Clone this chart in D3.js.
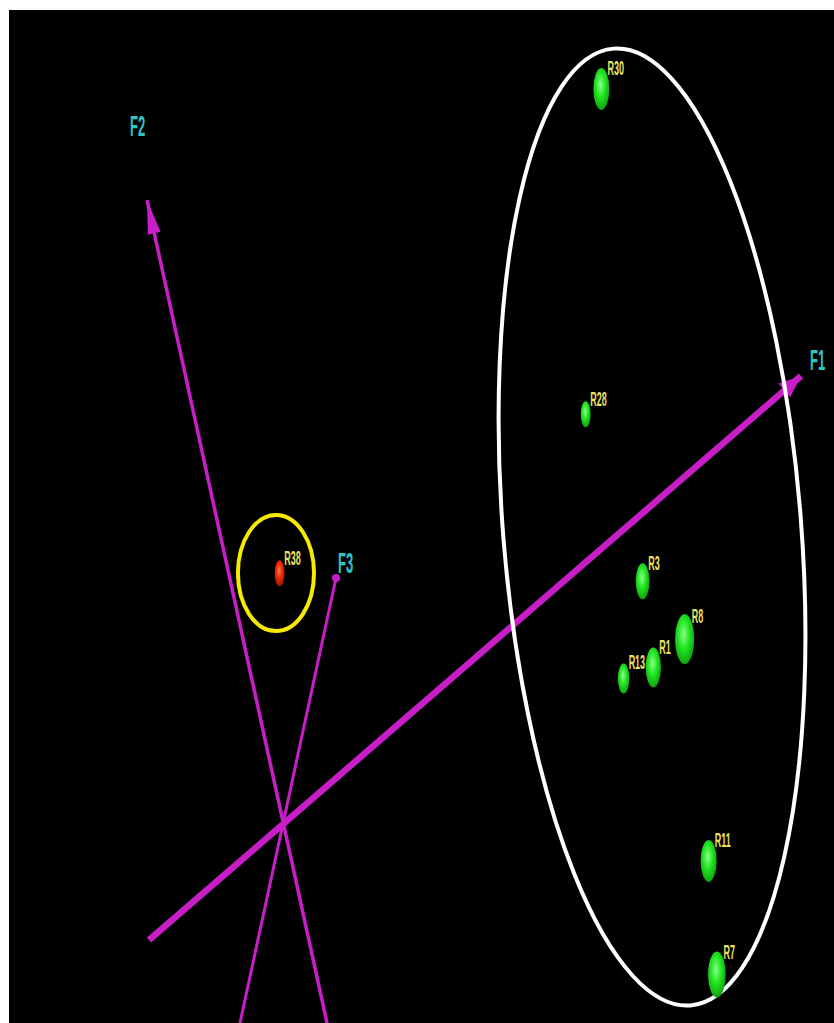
<!DOCTYPE html>
<html>
<head>
<meta charset="utf-8">
<script src="https://cdn.jsdelivr.net/npm/d3@7"></script>
<style>
  body { margin: 0; background: #fff; }
  svg { display: block; }
</style>
</head>
<body>
<div id="plot"></div>
<script>
// projected positions of the observations (0-100 screen units), depth = apparent size
var pointNames = ["R30", "R28", "R3", "R8", "R1", "R13", "R11", "R7", "R38"];
var pointX = [71.8, 69.9, 76.8, 81.9, 78.1, 74.5, 84.8, 85.8, 32.8];
var pointY = [92.2, 60.1, 43.6, 37.9, 35.1, 34.0, 16.0, 4.8, 44.4];
var pointDepth = [21, 13, 18, 25, 20, 15, 21, 23, 13];
var pointGroup = ["in", "in", "in", "in", "in", "in", "in", "in", "out"];

// factor axes: start and end of each projected axis
var axisNames = ["F1", "F2", "F3"];
var axisStartX = [16.97, 38.55, 28.0];
var axisStartY = [8.19, 0, 0];
var axisEndX = [96.0, 16.73, 39.64];
var axisEndY = [63.87, 81.24, 43.93];

// highlight rings: centre, radii (screen units), tilt in degrees
var ringCx = [77.94, 32.36];
var ringCy = [48.96, 44.42];
var ringRx = [18.06, 4.61];
var ringRy = [47.38, 5.73];
var ringTilt = [-4.6, 0];

var width = 834, height = 1023;
var panel = { left: 9, top: 10, right: 834, bottom: 1023 };

var svg = d3.select("#plot").append("svg")
    .attr("width", width)
    .attr("height", height);

var defs = svg.append("defs");
var grads = [
    { id: "gGreen", c0: "#8dff8d", c1: "#22e622", c2: "#0c9a0c" },
    { id: "gRed", c0: "#ff7a50", c1: "#e82a05", c2: "#9a1400" }
];
grads.forEach(function (g) {
    var rg = defs.append("radialGradient").attr("id", g.id)
        .attr("cx", "45%").attr("cy", "40%").attr("r", "65%");
    rg.append("stop").attr("offset", "0%").attr("stop-color", g.c0);
    rg.append("stop").attr("offset", "45%").attr("stop-color", g.c1);
    rg.append("stop").attr("offset", "100%").attr("stop-color", g.c2);
});

svg.append("rect")
    .attr("x", panel.left).attr("y", panel.top)
    .attr("width", panel.right - panel.left)
    .attr("height", panel.bottom - panel.top)
    .attr("fill", "#000");

var x = d3.scaleLinear().domain([0, 100]).range([panel.left, panel.right]);
var y = d3.scaleLinear().domain([0, 100]).range([panel.bottom, panel.top]);
var size = d3.scaleLinear().domain([0, 25]).range([0, 25]);

var chart = svg.append("g");

// axes
var axes = axisNames.map(function (n, i) {
    return { name: n, x1: axisStartX[i], y1: axisStartY[i], x2: axisEndX[i], y2: axisEndY[i] };
});
var axisWidth = { F1: 6.5, F2: 3.5, F3: 3 };
var axisColor = "#c81ec8";

chart.selectAll(".axisLine")
    .data(axes)
    .enter()
    .append("line")
    .attr("x1", d => x(d.x1))
    .attr("y1", d => y(d.y1))
    .attr("x2", d => x(d.x2))
    .attr("y2", d => y(d.y2))
    .attr("stroke", axisColor)
    .attr("stroke-width", d => axisWidth[d.name]);

// arrow heads for F1 and F2, a ball for F3
function headPath(d, len, half) {
    var x1 = x(d.x1), y1 = y(d.y1), x2 = x(d.x2), y2 = y(d.y2);
    var dx = x2 - x1, dy = y2 - y1, l = Math.sqrt(dx * dx + dy * dy);
    var ux = dx / l, uy = dy / l;
    var bx = x2 - ux * len, by = y2 - uy * len;
    return "M" + x2 + "," + y2 +
        "L" + (bx - uy * half) + "," + (by + ux * half) +
        "L" + (bx + uy * half) + "," + (by - ux * half) + "Z";
}
chart.append("path").attr("d", headPath(axes[0], 22, 9)).attr("fill", axisColor);
chart.append("path").attr("d", headPath(axes[1], 34, 6.5)).attr("fill", axisColor);
chart.append("circle")
    .attr("cx", x(axes[2].x2)).attr("cy", y(axes[2].y2))
    .attr("r", 4).attr("fill", axisColor);

var axisLabelPos = { F1: [9, -6], F2: [-17, -64], F3: [2, -5] };
chart.selectAll(".axisText")
    .data(axes)
    .enter()
    .append("text")
    .attr("transform", d => `translate(${x(d.x2) + axisLabelPos[d.name][0]}, ${y(d.y2) + axisLabelPos[d.name][1]}) scale(0.45,1)`)
    .attr("font-family", "Liberation Sans Narrow, Liberation Sans, sans-serif")
    .attr("font-weight", "bold")
    .attr("font-size", "29px")
    .attr("fill", "#2fc6c2")
    .text(d => d.name);

// rings
var rings = ringCx.map(function (c, i) {
    return { cx: c, cy: ringCy[i], rx: ringRx[i], ry: ringRy[i], tilt: ringTilt[i] };
});
chart.selectAll(".ring")
    .data(rings)
    .enter()
    .append("ellipse")
    .attr("transform", d => `translate(${x(d.cx)}, ${y(d.cy)}) rotate(${d.tilt})`)
    .attr("rx", d => x(d.rx) - x(0))
    .attr("ry", d => y(0) - y(d.ry))
    .attr("fill", "none")
    .attr("stroke", (d, i) => i == 0 ? "#ffffff" : "#f6ea00")
    .attr("stroke-width", 4);

// points
var points = pointNames.map(function (n, i) {
    return { name: n, x: pointX[i], y: pointY[i], depth: pointDepth[i], group: pointGroup[i] };
});

chart.selectAll(".point")
    .data(points)
    .enter()
    .append("ellipse")
    .attr("cx", d => x(d.x))
    .attr("cy", d => y(d.y))
    .attr("rx", d => size(d.depth) * 0.38)
    .attr("ry", d => size(d.depth))
    .attr("fill", d => d.group == "in" ? "url(#gGreen)" : "url(#gRed)");

chart.selectAll(".pointText")
    .data(points)
    .enter()
    .append("text")
    .attr("transform", d => `translate(${x(d.x) + size(d.depth) * 0.2 + 2}, ${y(d.y) - size(d.depth) * 0.65}) scale(0.45,1)`)
    .attr("font-family", "Liberation Sans Narrow, Liberation Sans, sans-serif")
    .attr("font-weight", "bold")
    .attr("font-size", "20px")
    .attr("fill", "#e8e260")
    .text(d => d.name);
</script>
</body>
</html>
